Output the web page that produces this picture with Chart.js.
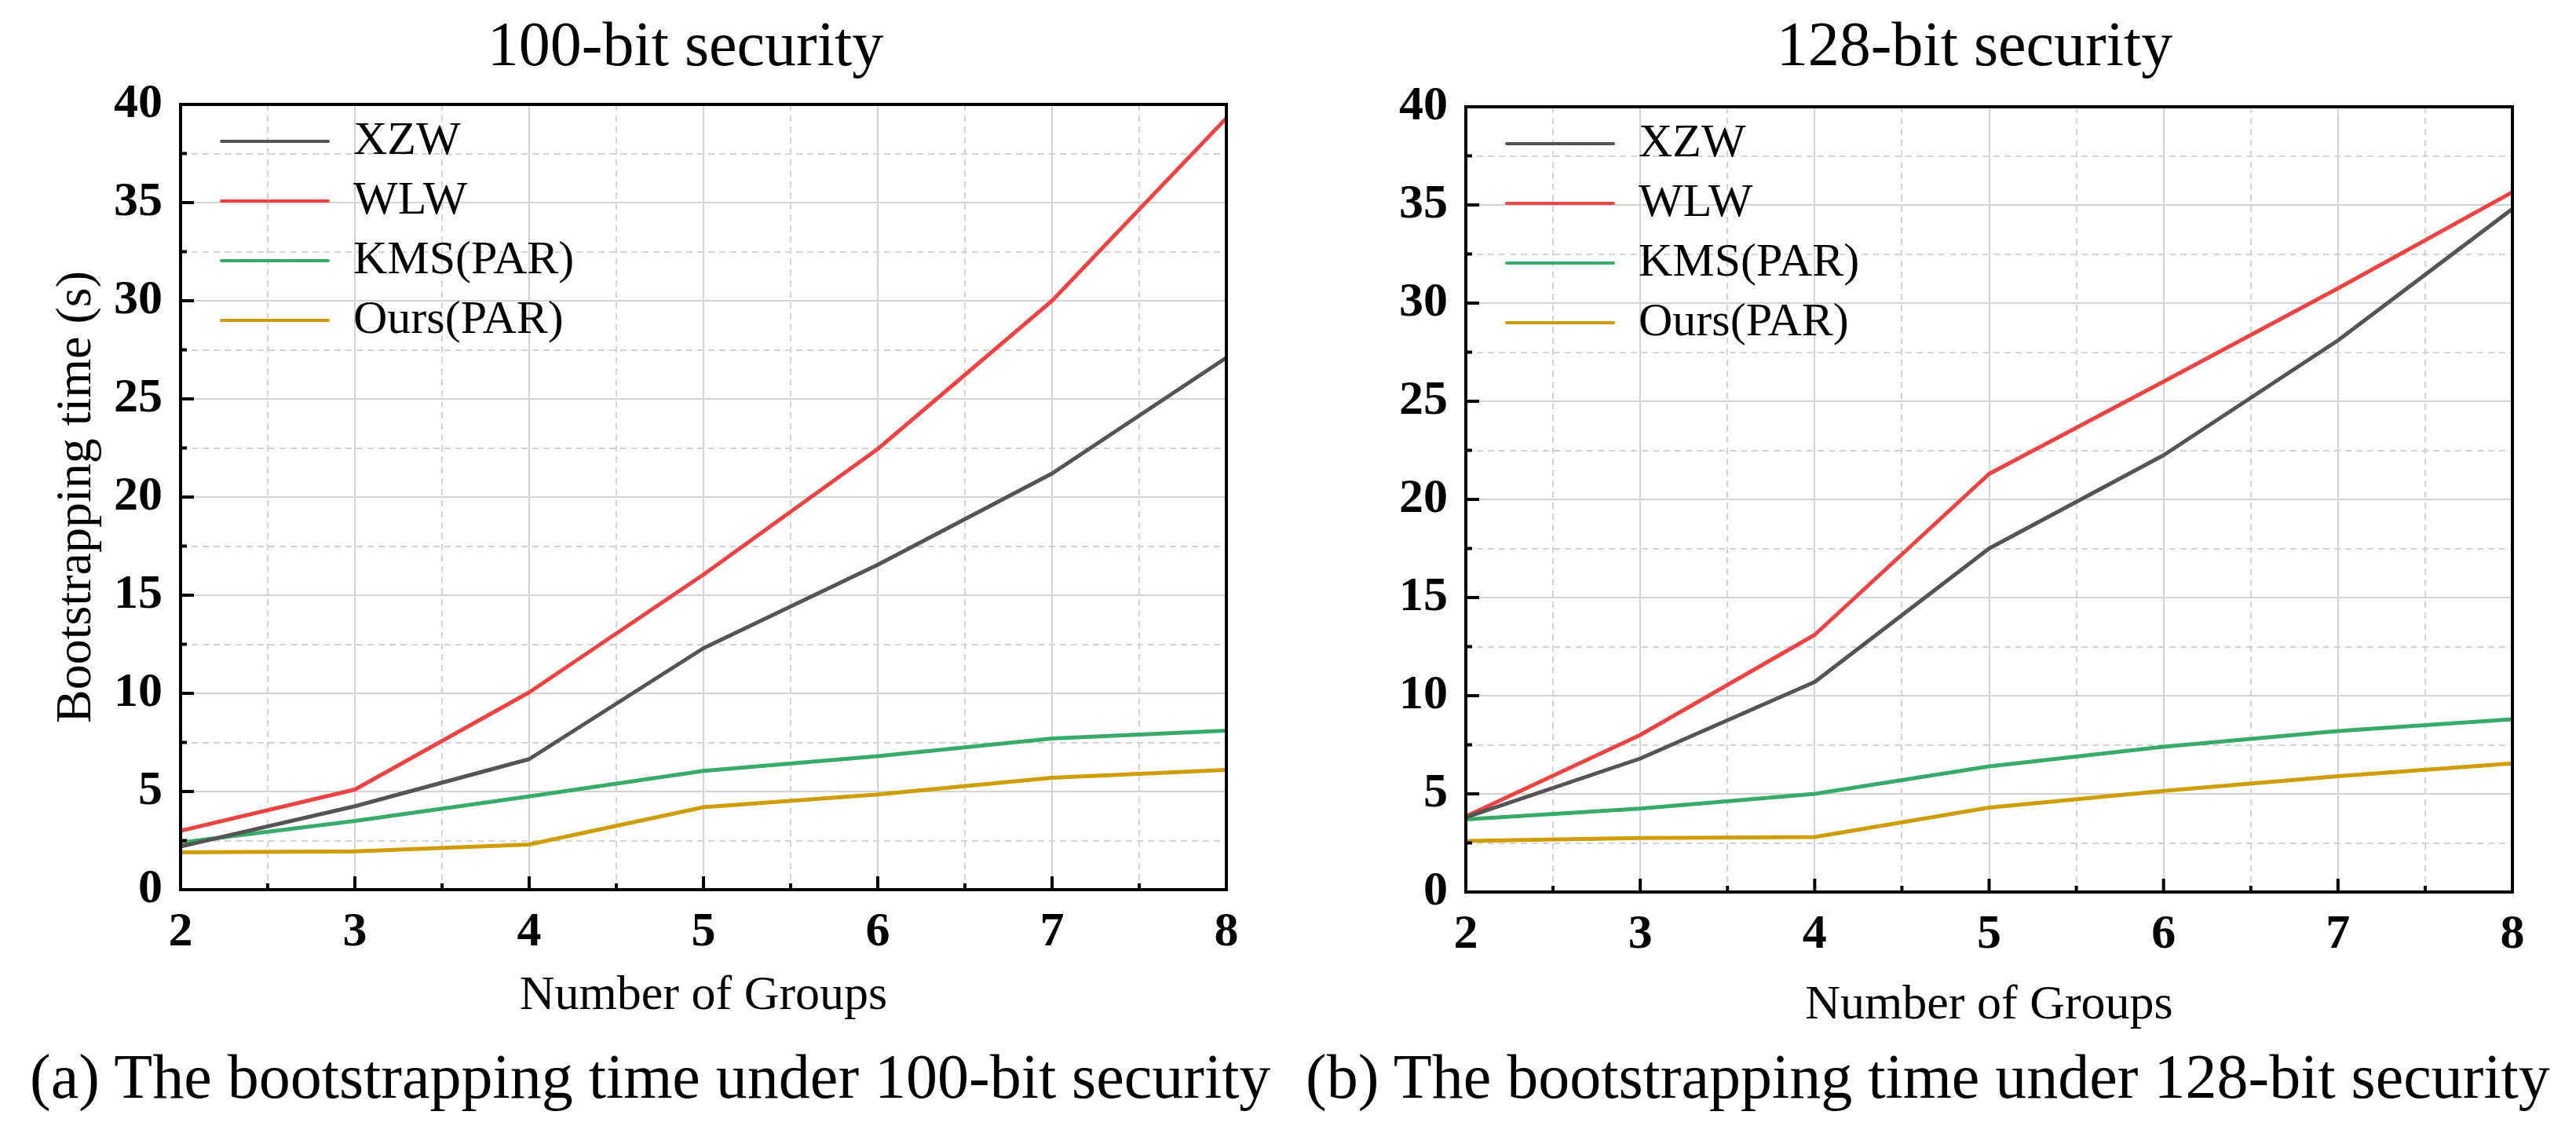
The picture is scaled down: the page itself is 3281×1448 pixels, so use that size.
<!DOCTYPE html>
<html>
<head>
<meta charset="utf-8">
<script src="https://cdn.jsdelivr.net/npm/chart.js@4/dist/chart.umd.min.js"></script>
<style>
  html, body { margin: 0; padding: 0; background: #fff; }
  body { width: 3281px; height: 1448px; position: relative; overflow: hidden; }
  canvas { position: absolute; top: 0; }
  .cap { position: absolute; top: 1331px; font-family: 'Liberation Serif', serif; font-size: 80px; line-height: 80px; white-space: nowrap; color: #000; }
</style>
</head>
<body>
<canvas id="cA" width="1746" height="1330" style="left:0px"></canvas>
<canvas id="cB" width="1530" height="1330" style="left:1750px"></canvas>
<div class="cap" style="left:38px">(a) The bootstrapping time under 100-bit security</div>
<div class="cap" style="left:1663px">(b) The bootstrapping time under 128-bit security</div>
<script>
// ---------------- data ----------------
const groups = [2, 3, 4, 5, 6, 7, 8];
const seriesNames = ['XZW', 'WLW', 'KMS(PAR)', 'Ours(PAR)'];
const seriesColors = ['#545454', '#F04143', '#37AB6B', '#CF9C02'];

// 100-bit security
const xzw100  = [2.2, 4.25, 6.65, 12.3, 16.55, 21.2, 27.1];
const wlw100  = [3.0, 5.1, 10.05, 16.05, 22.45, 30.0, 39.3];
const kms100  = [2.4, 3.5, 4.75, 6.05, 6.8, 7.7, 8.1];
const ours100 = [1.9, 1.95, 2.3, 4.2, 4.85, 5.7, 6.1];

// 128-bit security
const xzw128  = [3.8, 6.8, 10.7, 17.5, 22.25, 28.1, 34.8];
const wlw128  = [3.85, 8.0, 13.1, 21.3, 26.0, 30.75, 35.65];
const kms128  = [3.7, 4.25, 5.0, 6.4, 7.4, 8.2, 8.8];
const ours128 = [2.6, 2.75, 2.8, 4.3, 5.15, 5.9, 6.55];

const yTickLabels = [0, 5, 10, 15, 20, 25, 30, 35, 40];
const xTickLabels = groups;

const titleA = '100-bit security';
const titleB = '128-bit security';
const xTitle = 'Number of Groups';
const yTitle = 'Bootstrapping time (s)';

// ---------------- helpers ----------------
Chart.defaults.font.family = "'Liberation Serif', 'Times New Roman', serif";
Chart.defaults.color = '#000';

const FONT = "'Liberation Serif', 'Times New Roman', serif";

function makeDatasets(arrs) {
  return arrs.map((vals, i) => ({
    label: seriesNames[i],
    data: groups.map((g, j) => ({ x: g, y: vals[j] })),
    borderColor: seriesColors[i],
    backgroundColor: seriesColors[i],
    borderWidth: 5,
    pointRadius: 0,
    tension: 0,
    fill: false,
    borderJoinStyle: 'round',
    borderCapStyle: 'round'
  }));
}

const frameTicks = {
  id: 'frameTicks',
  afterDraw(chart) {
    const { ctx, chartArea: a, scales: { x, y } } = chart;
    ctx.save();
    ctx.strokeStyle = '#000';
    ctx.lineWidth = 4;
    ctx.lineCap = 'butt';
    ctx.beginPath();
    x.ticks.forEach(t => {
      const px = x.getPixelForValue(t.value);
      const len = Number.isInteger(t.value) ? 17 : 8;
      ctx.moveTo(px, a.bottom);
      ctx.lineTo(px, a.bottom - len);
    });
    y.ticks.forEach(t => {
      const py = y.getPixelForValue(t.value);
      const len = (t.value % 5 === 0) ? 17 : 8;
      ctx.moveTo(a.left, py);
      ctx.lineTo(a.left + len, py);
    });
    ctx.stroke();
    ctx.strokeRect(a.left, a.top, a.right - a.left, a.bottom - a.top);
    ctx.restore();
  }
};

const legendPos = {
  id: 'legendPos',
  afterLayout(chart) {
    const lg = chart.legend;
    if (!lg) return;
    const a = chart.chartArea;
    lg.left = a.left + 34;
    lg.top = a.top + 1;
    lg.right = lg.left + lg.width;
    lg.bottom = lg.top + lg.height;
  }
};

function makeChart(id, title, arrs, cfg) {
  return new Chart(document.getElementById(id), {
    type: 'line',
    data: { datasets: makeDatasets(arrs) },
    plugins: [frameTicks, legendPos],
    options: {
      responsive: false,
      animation: false,
      devicePixelRatio: 1,
      layout: { padding: 0 },
      plugins: {
        title: {
          display: true,
          text: title,
          color: '#000',
          font: { family: FONT, size: 80, weight: 'normal', lineHeight: 1.2 },
          padding: { top: 14, bottom: cfg.titleBottom }
        },
        legend: {
          display: true,
          position: 'chartArea',
          align: 'start',
          labels: {
            color: '#000',
            font: { family: FONT, size: 60, weight: 'normal' },
            boxWidth: 140,
            boxHeight: 4,
            padding: 16,
            useBorderRadius: true,
            borderRadius: 2,
            generateLabels(chart) {
              const items = Chart.defaults.plugins.legend.labels.generateLabels(chart);
              return items.map(it => Object.assign(it, { lineWidth: 0, fillStyle: it.strokeStyle }));
            }
          }
        },
        tooltip: { enabled: false }
      },
      scales: {
        x: {
          type: 'linear',
          min: groups[0],
          max: groups[groups.length - 1],
          afterFit: s => { s.height = cfg.xHeight; },
          ticks: {
            stepSize: 0.5,
            autoSkip: false,
            maxRotation: 0,
            padding: 18,
            color: '#000',
            font: { family: FONT, size: 62, weight: 'bold' },
            callback: v => xTickLabels.includes(v) ? String(v) : ''
          },
          grid: { color: '#d4d4d4', lineWidth: 2, drawTicks: false },
          border: {
            display: false,
            dash: c => (c.tick && !Number.isInteger(c.tick.value)) ? [8, 6] : []
          },
          title: {
            display: true,
            text: xTitle,
            color: '#000',
            font: { family: FONT, size: 62, weight: 'normal', lineHeight: 1.2 },
            padding: { top: 0, bottom: cfg.xTitleBottom }
          }
        },
        y: {
          type: 'linear',
          min: 0,
          max: 40,
          afterFit: s => { s.width = cfg.yWidth; },
          ticks: {
            stepSize: 2.5,
            autoSkip: false,
            padding: 23,
            color: '#000',
            font: { family: FONT, size: 62, weight: 'bold' },
            callback: v => yTickLabels.includes(v) ? String(v) : ''
          },
          grid: { color: '#d4d4d4', lineWidth: 2, drawTicks: false },
          border: {
            display: false,
            dash: c => (c.tick && c.tick.value % 5 !== 0) ? [8, 6] : []
          },
          title: {
            display: cfg.showYTitle,
            text: yTitle,
            color: '#000',
            font: { family: FONT, size: 64, weight: 'normal', lineHeight: 1.2 },
            padding: { top: 60, bottom: 0 }
          }
        },
        yRight: {
          axis: 'y',
          type: 'linear',
          position: 'right',
          display: true,
          afterFit: s => { s.width = cfg.rightSpace; },
          ticks: { display: false },
          grid: { display: false, drawTicks: false },
          border: { display: false },
          title: { display: false }
        }
      }
    }
  });
}

makeChart('cA', titleA, [xzw100, wlw100, kms100, ours100], {
  rightSpace: 184, titleBottom: 23, xHeight: 197, xTitleBottom: 24, yWidth: 230, showYTitle: true
});
makeChart('cB', titleB, [xzw128, wlw128, kms128, ours128], {
  rightSpace: 80, titleBottom: 26, xHeight: 194, xTitleBottom: 12, yWidth: 117, showYTitle: false
});
</script>
</body>
</html>
